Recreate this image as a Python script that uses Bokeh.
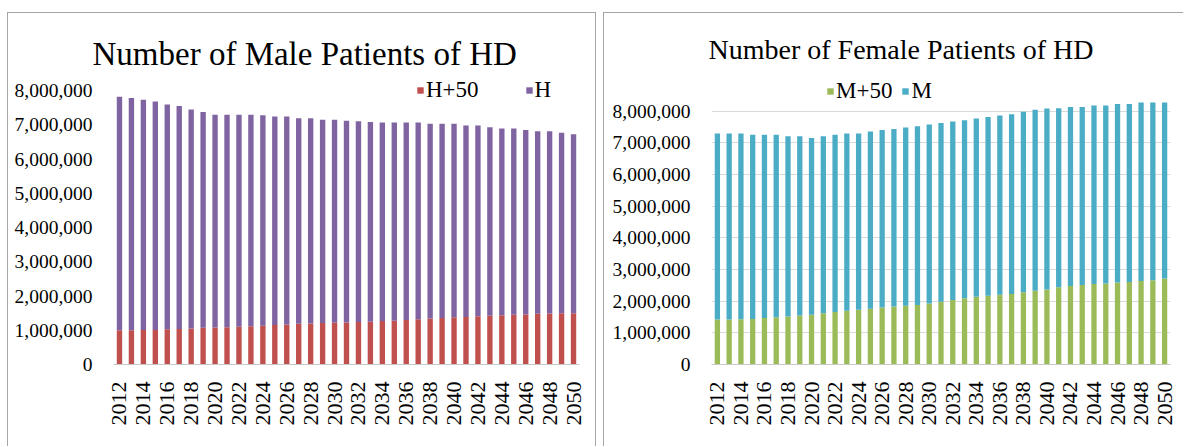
from math import pi
from bokeh.plotting import figure
from bokeh.layouts import row
from bokeh.models import ColumnDataSource, Range1d, FixedTicker, NumeralTickFormatter
from bokeh.embed import file_html
from bokeh.resources import INLINE

years = list(range(2012, 2051))
x_ticks = [2012, 2014, 2016, 2018, 2020, 2022, 2024, 2026, 2028, 2030,
           2032, 2034, 2036, 2038, 2040, 2042, 2044, 2046, 2048, 2050]
y_ticks = [0, 1000000, 2000000, 3000000, 4000000, 5000000, 6000000, 7000000, 8000000]

# Male: H+50 (bottom segment) and H (upper segment)
h_plus50 = [1000000, 1000000, 1010000, 1010000, 1030000, 1040000, 1050000, 1070000,
            1080000, 1090000, 1100000, 1120000, 1130000, 1150000, 1170000, 1190000,
            1200000, 1210000, 1220000, 1230000, 1240000, 1250000, 1270000, 1280000,
            1300000, 1320000, 1340000, 1360000, 1380000, 1390000, 1410000, 1420000,
            1440000, 1450000, 1460000, 1480000, 1490000, 1500000, 1500000]
h = [6820000, 6780000, 6720000, 6670000, 6560000, 6510000, 6400000, 6300000,
     6210000, 6200000, 6190000, 6170000, 6150000, 6090000, 6070000, 6000000,
     5990000, 5940000, 5930000, 5890000, 5860000, 5830000, 5800000, 5790000,
     5770000, 5750000, 5690000, 5670000, 5650000, 5590000, 5570000, 5510000,
     5450000, 5440000, 5390000, 5330000, 5320000, 5270000, 5220000]

# Female: M+50 (bottom segment) and M (upper segment)
m_plus50 = [1420000, 1420000, 1430000, 1440000, 1470000, 1490000, 1520000, 1550000,
            1570000, 1620000, 1660000, 1700000, 1730000, 1760000, 1800000, 1830000,
            1860000, 1880000, 1930000, 1980000, 2040000, 2090000, 2140000, 2170000,
            2200000, 2230000, 2280000, 2330000, 2370000, 2440000, 2480000, 2510000,
            2540000, 2560000, 2590000, 2610000, 2640000, 2660000, 2720000]
m = [5880000, 5880000, 5870000, 5820000, 5790000, 5770000, 5690000, 5660000,
     5590000, 5590000, 5600000, 5600000, 5570000, 5600000, 5610000, 5610000,
     5630000, 5650000, 5650000, 5650000, 5640000, 5630000, 5630000, 5650000,
     5670000, 5680000, 5710000, 5720000, 5720000, 5660000, 5660000, 5630000,
     5640000, 5620000, 5640000, 5620000, 5640000, 5620000, 5560000]

SERIF = "Liberation Serif"
BORDER = "1px solid #a6a6a6"


def make_chart(title, keys, labels, colors, values, width, height, ymax,
               mb, title_size, title_offset, title_standoff, legend_loc,
               legend_spacing, grid):
    src = ColumnDataSource(dict(year=years, **{k: v for k, v in zip(keys, values)}))
    p = figure(width=width, height=height, output_backend="svg", toolbar_location=None,
               x_range=Range1d(2011.5, 2050.5), y_range=Range1d(0, ymax),
               min_border_left=mb[0], min_border_right=mb[1],
               min_border_top=mb[2], min_border_bottom=mb[3])
    p.vbar_stack(keys, x="year", width=0.45, color=colors, source=src,
                 legend_label=labels, line_color=None)
    p.title.text = title
    p.title.text_font = SERIF
    p.title.text_font_size = f"{title_size}px"
    p.title.text_font_style = "normal"
    p.title.text_color = "#000000"
    p.title.align = "left"
    p.title.offset = title_offset
    p.title.standoff = title_standoff
    p.outline_line_color = None
    p.background_fill_color = "white"
    p.border_fill_color = "white"

    p.xaxis.ticker = FixedTicker(ticks=x_ticks)
    p.xaxis.major_label_orientation = pi / 2
    p.xaxis.major_label_text_font = SERIF
    p.xaxis.major_label_text_font_size = "22px"
    p.xaxis.major_label_text_color = "#000000"
    p.xaxis.major_tick_line_color = None
    p.xaxis.minor_tick_line_color = None
    p.xaxis.axis_line_color = "#c8c8c8"
    p.xaxis.major_label_standoff = 11

    p.yaxis.ticker = FixedTicker(ticks=y_ticks)
    p.yaxis.formatter = NumeralTickFormatter(format="0,0")
    p.yaxis.major_label_text_font = SERIF
    p.yaxis.major_label_text_font_size = "19.5px"
    p.yaxis.major_label_text_color = "#000000"
    p.yaxis.major_tick_line_color = None
    p.yaxis.minor_tick_line_color = None
    p.yaxis.axis_line_color = None
    p.yaxis.major_label_standoff = 15

    p.xgrid.grid_line_color = None
    p.ygrid.grid_line_color = "#d9d9d9" if grid else None

    lg = p.legend[0]
    lg.orientation = "horizontal"
    lg.location = legend_loc
    lg.label_text_font = SERIF
    lg.label_text_font_size = "23px"
    lg.label_text_color = "#000000"
    lg.glyph_width = 8
    lg.glyph_height = 8
    lg.label_standoff = 2
    lg.spacing = legend_spacing
    lg.padding = 0
    lg.margin = 0
    lg.border_line_color = None
    lg.background_fill_alpha = 0
    return p


p1 = make_chart("Number of Male Patients of HD", ["h_plus50", "h"], ["H+50", "H"],
                ["#C0504D", "#8064A2"], [h_plus50, h], 589, 434, 8410000,
                (105, 18, 63, 83), 33, -21, 9, (303, 261), 46, False)
p1.styles = {"border-top": BORDER, "border-left": BORDER, "border-right": BORDER}

p2 = make_chart("Number of Female Patients of HD", ["m_plus50", "m"], ["M+50", "M"],
                ["#9BBB59", "#4BACC6"], [m_plus50, m], 580, 434, 9100000,
                (107, 14, 63, 81), 28, -3, 23, (115, 260), 9, True)
p2.styles = {"border-top": BORDER, "border-left": BORDER}

layout = row(p1, p2, spacing=7)
layout.margin = (12, 0, 0, 7)

open("out.html", "w").write(file_html(layout, INLINE))
